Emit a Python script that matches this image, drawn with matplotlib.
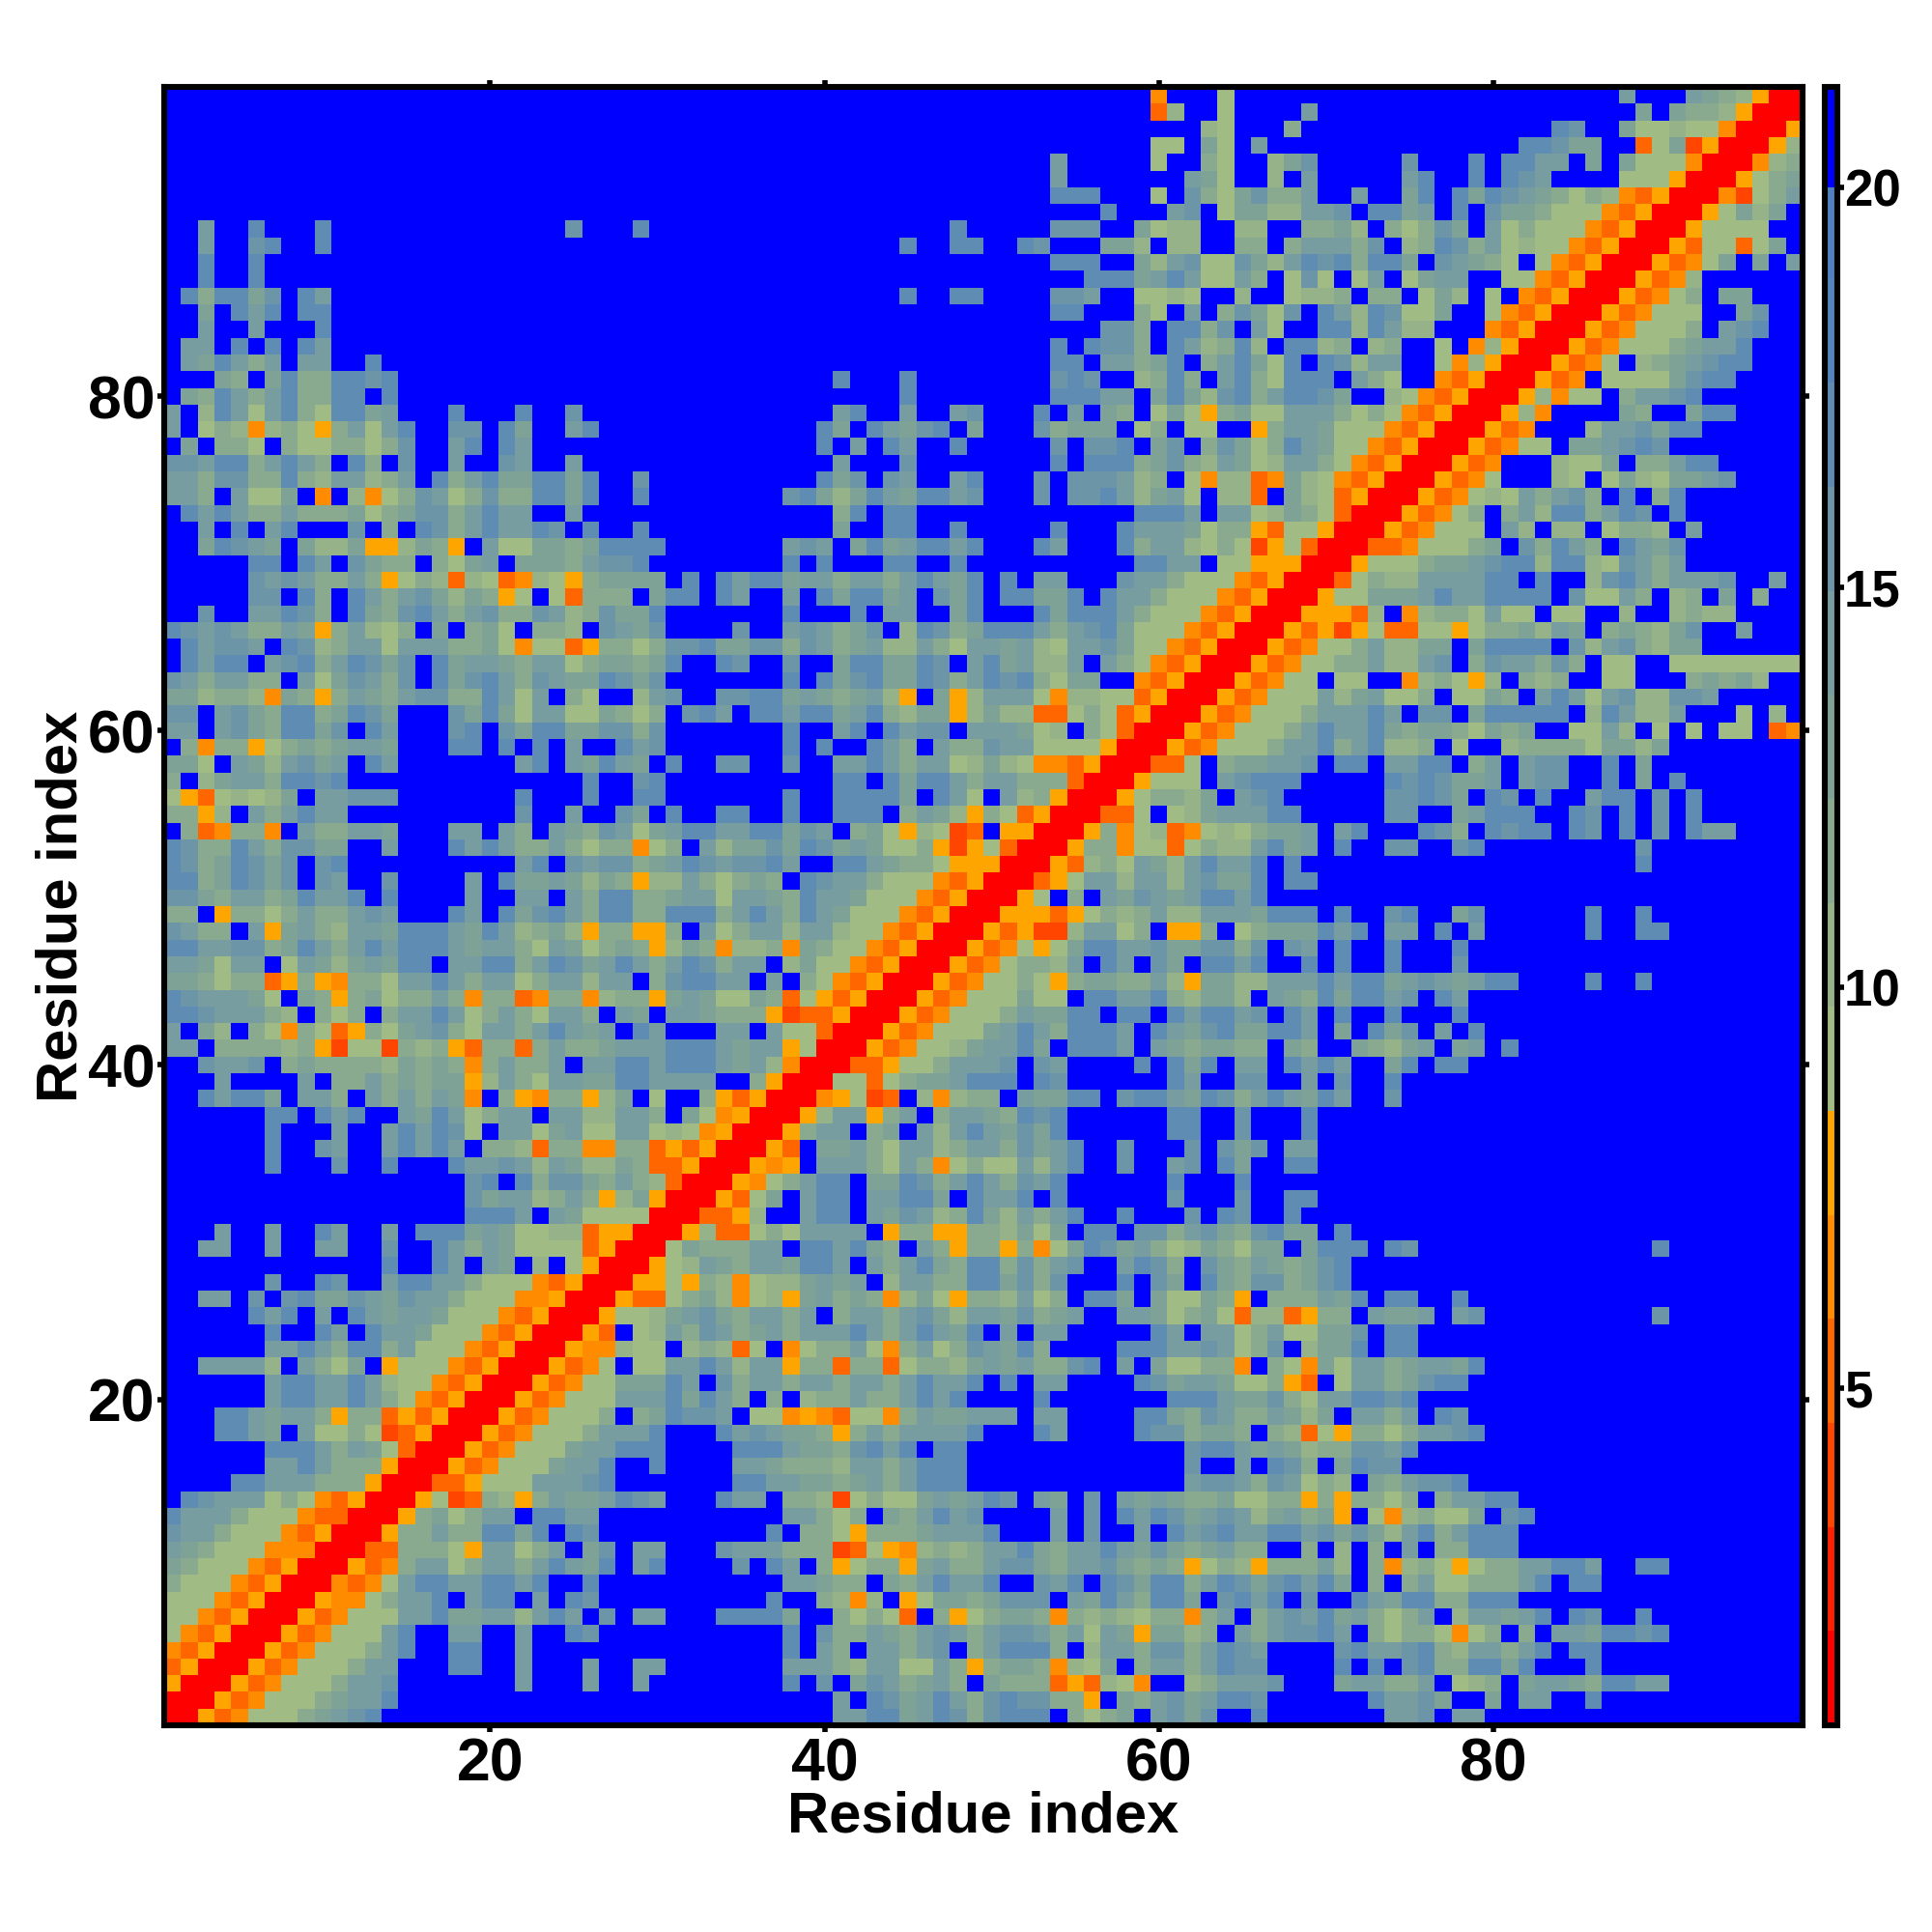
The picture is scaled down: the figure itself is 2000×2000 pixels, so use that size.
import numpy as np
import matplotlib
matplotlib.use("Agg")
import matplotlib.pyplot as plt
from matplotlib.colors import ListedColormap, BoundaryNorm

plt.rcParams["font.family"] = ["Liberation Sans", "DejaVu Sans"]
plt.rcParams["font.weight"] = "bold"

# Contact map. The map is symmetric, so each row only
# holds the cells from the diagonal to residue 98: each letter is a distance
# class, blocks are cols up to 25 / 26-50 / 51-75 / 76-98, short rows are blue
rows_1_25 = [
    "RRyOogggsqtvubbbbbbbbbbbb bbbbbbbbbbbbbbbttuuqtuvsv uuubsgsqbtvqvbbubbbbbbbtt vbtt",
    "RRyOogggsqttubbbbbbbbbbb bbbbbbbbbbbbbbbtbuvqtutsv uvvssybqstvqtuuvbbbbbbutt vqbbqbttbbu",
    "RRyOogggsttvbbbbbbbtbbb tbbtbbbbbbbbubvbqvtsqtsbq sssOyOhgobbhstttvbbbqttss tbghsbqttqsuutt",
    "RRyOogggsttbbbuubbtbbb tbbttbbbbbbbtttshttggtsys qqsohgqbsttstuvvbbbbububv ussuuqubbbu",
    "RRyOogggstubbuubbtbbb bbbbbbbbbbbbubtsbttstvbst uuusbhttsvvstuvtbbbbvuttv ushttstubuu",
    "RRyOogggtubbttbbtbbu vbbbbbbbbbbbubvsstqstvtst vvtstgtqyqqhsbtstvvutbsgs sgogsbsbttquuvu",
    "RRyOogggttuqqtthtut bvbttbbbuuuuqbbsgsgObsygs qqsoshshgssostbstvtuqtsgs tbhttqtubuvbbu",
    "RRyoogsttubtuubtbu vbbbbbbbbbbubbshohbygqqsq vvvbtqutsuuqbvutubvbbutqu ussuuu",
    "RRoOogtuuttuutubb ubbbbbbbbbbbttqssbqstuttu bbvtubuvquustuvqvutuqbsbs tggssstubuu",
    "RRyOosttgsttstut qubtubbbbvbutbsygssyqtsst vvqsttvqsqsygshysssthbsoh sgygssttuutbbuu",
    "RROOsssgyttgstb qvbttbbbvtttsssDOgyohshst tuqsttutqvqsqtssbbsbhbsbt bssuuu",
    "RRysstssuuqubu vbbbbbbbbbbubssgysssqtttu bbbtbvbbtbutvuttuutvqvqht ustuuu",
    "RRysqgsttbuut tbbbbbbbbbbbttsgsbqstutvb bbbtbvbutuvqtvthqtsqybgoh sggqbvu",
    "RRygDOshystq qtuvtbbbuttbsshDgsggqtqtu vbtqbvbtqtqssqggssysyssgs bsttuu",
    "RROOygggttt vubbbbbbbuuttqqsqtstuuubb bbbbbbbbbbbtvvtsvtgshbqst vvu",
    "RRyOogggqt tubbubbbbttqssshttstuuubb bbbbbbbbbbbvbbtbuvsbquvvb b",
    "RRyOogggq ttuuubbbbuuutqqsvutubuubb bbbbbbbbbbbvuutqtqhssvvtu b",
    "RRyOoggg stttubbbutvtqqsyststtttub bbutbbbbuvvsqqsbshOgyssgs ttvu",
    "RRyOogg gsbsquvvtbggoyoOggostqqtt tbttbbbbuuqsvtsstqhqbttst buv",
    "RRyOog ggtttuqutsbsbhsstsstutubb bbubbbbbbbuuutqqvsgttuuvu b",
    "RRyOo ggqqqutbvsttsttsttstuttub ubttbbbbuvqttqggsyObgttsq vuu",
    "RRyO ogbggttuthttyssOssOgsshqt qtssvubtbqggssobsgoqgttsq ttqu",
    "RRy oohggbhshOgbogsstgostgsvt qusbbbbuuuttvtgsvbhqqubuu b",
    "RR yObghtsvtsqtstttutstutqub tbttbbbbbutbttgstggqqvbuu b",
    "R Rygghqtvqsttstbsttstvqhtt qvsqtbbttqgsqgOhhOyssbtqq tbtvbbbbbbbbbbv",
]
rows_26_50 = [
    "RRyOOgsqhoghyqtsqsohqgyss htgsbuuqbqggqsybssstqubuu bbu",
    "RRyygyshoghhqtqtbhttssuu qvsvbbbubvqbuqsvvsqvubbbb b",
    "RRyghtqsttquutbtstuqsuu svstvbbtuvsbvqstqsqvubbbb b",
    "RRgqsssttbuutuqsbtsyss ysogquvqtsghqsgqqbquuubuv bbbbbbbbbbbbbbu",
    "RRyhOOgsgttttbyssyyss hqgqbuubvvstvqsvuqqbubbbb b",
    "RROOyhbbtuubtqvthsuq htstubbubbbvbuvbbubbbbbbb b",
    "RRyOgqbtuubttuuqbut tububbbbbbvbbbvbbuubbbbbb b",
    "RRyogstuubqquvstut svtubbbbbbubbbubbbbbbbbbb b",
    "RRyoybtttsgtsogsg gthtubbvbbtvbuqbbuubbbbbb b",
    "RRyObqqtsgtthstt svqtubbvbbbvbvqvbttbbbbbb b",
    "RRysttbsqbthtut qvqubbbbbbuubbvbbbubbbbbb b",
    "RRyhttystbsttq suvubbbbbbuubbvbbbubbbbbb b",
    "RRoygDObhohss btqquubvuutquvstutqutbbvb b",
    "RRggOgsqqtuu ubuvbbbbbbutbbvvbbtbvbbub b",
    "RROOyggsttt vbvtbbbbubuqubttbututbbqu buu",
    "RRyOogghqt tuqbuuutbtqsqqssbqsbbqshq tbqtbu",
    "RRyOogggq tutsuuutbutqvuqquutbqbuqv btbu",
    "RRyOoggg stqquubuubutuutvbutbubbub bbu",
    "RRyOogg gqggbuuttushqqhbtqsuquutv but",
    "RRyOog gsgysqqssthyqqhhtttutuuqt vtqtuubbbbubbu",
    "RRyOo gsshtbutbvqbuutubbububbub bbv",
    "RRyO ogygquuttvqqvvsvbvtbubbub bbu",
    "RRy OyDDhttgsbyysbgsqqqutubtt bubtbbbbbbubbuu",
    "RR yyyOygshsthhtttquuububbvu bbqvbbbbbbubbu",
    "R Rygbsbtqvtqtuutubbbbbbbbb b",
]
rows_51_75 = [
    "RROygtthtthtvqqubuubbbbbb b",
    "RRyOhsgtqhtuttububbbbbbb bbbbbbbbbbbbbu",
    "RRyssoggOgshhtuqtbubbvv bbvubbbbbbbbbv",
    "RRysoghOoghgsqqtbtubbb uvsbuvuubuvbubvbutt",
    "RROOgbghqtttuubbbbbvv bbqtuuubbuvbubvbu",
    "RRygsshqbtvubbbbbbvv uvqbuvbubbtuubvbu",
    "RRygggbtvuuubbbbbuv uvqqtbtvvbbubqbu",
    "RROOgbsqqttvbuubtt uubstbtvvbbubq",
    "RRyOogggsttustuhh sbgbbhssssgqqhq",
    "RRyOogggstuttuqs qqsgqsqbbggthbgbgbggbOo",
    "RRyOogggstttutb vvbquuuuubhuthhtbbbgbh",
    "RRyOogggthqtgg sbggqsbtutgtvhhvvt",
    "RRyOoggbggbbo hsgyhbshsbbggbbbsqsqh",
    "RRyOoggssthh tvbsvttsvsbggbbgggggggg",
    "RRyOoggsthh qqbquuuubvhtvshqq",
    "RRyOyDygOO ggygssqhtqbsqshqvbbt",
    "RRyyyOhbo hssgtggbggbbhbbhshh",
    "RRyggqqq tuttuuuubvggtsbhsbqbs",
    "RROgshh ttttuububbhvutstttvbbt",
    "RRyggg sqqtvuuhuuhgvtst",
    "RROOo gggsqbvsutsbutqv",
    "RRyO ogggbthbhhbgsshbt",
    "RRy Oogsbsthuustuvbu",
    "RR yOoghgtstvsbubsu",
    "R RyOogbbbhgbgqhgqqtv",
]
rows_76_98 = [
    "RRyOobbbhggqbsstuu",
    "RRyOoggbqqtvuv",
    "RRyOobbbhttvquu",
    "RRyhobbbbqsbbquu",
    "RRyhoggbsttvu",
    "RRyOobggggqvuu",
    "RRyOogbhsqtvuu",
    "RRyOogggsqttu",
    "RRyOogggsbtvu",
    "RRyOogggbbqv",
    "RRyOogsbqq",
    "RRyOoh",
    "RRyOogqbqbt",
    "RRyOggOgqb",
    "RRyggggbb",
    "RRygqhqb",
    "RRoDgst",
    "RRygsq",
    "RRohs",
    "RRyh",
    "RRy",
    "RR",
    "R",
]

# distance (mid of its colour class) for each letter
class_dist = {"R": 1.3, "D": 3.9, "O": 5.2, "o": 6.5, "y": 7.8, "g": 9.1, "h": 10.4,
              "s": 11.7, "q": 13.0, "t": 14.3, "v": 15.6, "u": 16.9, "b": 20.6}

bar_edges = [0.78, 1.96, 3.26, 4.56, 5.86, 7.16, 8.46, 9.76, 11.06, 12.36,
             13.66, 14.96, 16.26, 17.56, 18.86, 20.0, 21.26]
bar_colors = ["#ff0000", "#ff2200", "#ff4500", "#ff6600", "#ff8c00", "#ffa500",
              "#a1bb84", "#96b288", "#8aaa8f", "#7fa296", "#789da0", "#6c95a8",
              "#5f8cb2", "#5484bc", "#4f80c0", "#0000ff"]

n_res = 98
all_rows = rows_1_25 + rows_26_50 + rows_51_75 + rows_76_98
dist = np.full((n_res, n_res), class_dist["b"])
for r, line in enumerate(all_rows):
    cells = line.replace(" ", "")
    if len(cells) > n_res - r:
        raise ValueError(f"row {r + 1} too long: {len(cells)}")
    for k, ch in enumerate(cells):
        dist[r, r + k] = class_dist[ch]
        dist[r + k, r] = class_dist[ch]

cmap = ListedColormap(bar_colors)
norm = BoundaryNorm(bar_edges, cmap.N)

fig = plt.figure(figsize=(10, 10), dpi=200)
ax = fig.add_axes([170 / 2000, 1 - 1786 / 2000, 1696 / 2000, 1696 / 2000])
im = ax.imshow(dist, origin="lower", extent=(0.5, 98.5, 0.5, 98.5), aspect="auto",
               cmap=cmap, norm=norm, interpolation="nearest")

ax.set_xticks([20, 40, 60, 80])
ax.set_yticks([20, 40, 60, 80])
ax.tick_params(top=True, right=True, length=2.5, width=2, labelsize=22.5)
ax.tick_params(axis="x", pad=1.8)
ax.tick_params(axis="y", pad=1)
for s in ax.spines.values():
    s.set_linewidth(2.2)
ax.set_xlabel("Residue index", fontsize=21.5, fontweight="bold", labelpad=-1.4)
ax.set_ylabel("Residue index", fontsize=21.5, fontweight="bold", labelpad=-0.5)

cax = fig.add_axes([1889 / 2000, 1 - 1786 / 2000, 13 / 2000, 1696 / 2000])
cbar = fig.colorbar(im, cax=cax, spacing="proportional", ticks=[5, 10, 15, 20], drawedges=False)
cbar.minorticks_off()
cbar.outline.set_linewidth(2.2)
cbar.ax.tick_params(length=2.5, width=2, pad=0, labelsize=19)
cbar.ax.set_yticklabels(["5", "10", "15", "20"], fontweight="bold")

fig.savefig("out.png", dpi=200)
